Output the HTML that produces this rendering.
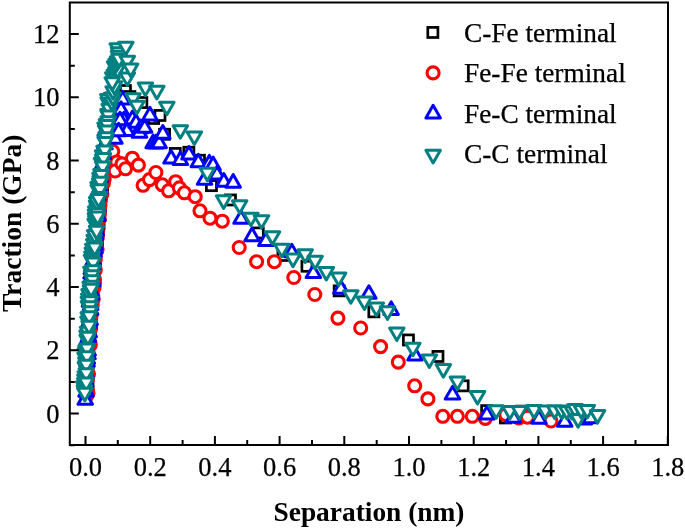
<!DOCTYPE html><html><head><meta charset="utf-8"><title>Traction-Separation</title><style>html,body{margin:0;padding:0;background:#fff}</style></head><body><svg width="685" height="529" viewBox="0 0 685 529" style="display:block">
<rect width="685" height="529" fill="#fff"/>
<g>
<rect x="81.2" y="388.9" width="10.1" height="10.1" fill="#fff" stroke="#000000" stroke-width="2.7"/>
<rect x="82.9" y="377.6" width="10.1" height="10.1" fill="#fff" stroke="#000000" stroke-width="2.7"/>
<rect x="82.6" y="372.9" width="10.1" height="10.1" fill="#fff" stroke="#000000" stroke-width="2.7"/>
<rect x="80.7" y="363.8" width="10.1" height="10.1" fill="#fff" stroke="#000000" stroke-width="2.7"/>
<rect x="81.1" y="360.2" width="10.1" height="10.1" fill="#fff" stroke="#000000" stroke-width="2.7"/>
<rect x="83.5" y="349.8" width="10.1" height="10.1" fill="#fff" stroke="#000000" stroke-width="2.7"/>
<rect x="83.5" y="338.9" width="10.1" height="10.1" fill="#fff" stroke="#000000" stroke-width="2.7"/>
<rect x="84.7" y="334.4" width="10.1" height="10.1" fill="#fff" stroke="#000000" stroke-width="2.7"/>
<rect x="84.6" y="330.5" width="10.1" height="10.1" fill="#fff" stroke="#000000" stroke-width="2.7"/>
<rect x="83.5" y="326.1" width="10.1" height="10.1" fill="#fff" stroke="#000000" stroke-width="2.7"/>
<rect x="85.4" y="322.8" width="10.1" height="10.1" fill="#fff" stroke="#000000" stroke-width="2.7"/>
<rect x="86.6" y="318.4" width="10.1" height="10.1" fill="#fff" stroke="#000000" stroke-width="2.7"/>
<rect x="85.0" y="314.8" width="10.1" height="10.1" fill="#fff" stroke="#000000" stroke-width="2.7"/>
<rect x="86.3" y="303.6" width="10.1" height="10.1" fill="#fff" stroke="#000000" stroke-width="2.7"/>
<rect x="85.2" y="295.1" width="10.1" height="10.1" fill="#fff" stroke="#000000" stroke-width="2.7"/>
<rect x="86.1" y="290.7" width="10.1" height="10.1" fill="#fff" stroke="#000000" stroke-width="2.7"/>
<rect x="85.4" y="287.9" width="10.1" height="10.1" fill="#fff" stroke="#000000" stroke-width="2.7"/>
<rect x="87.9" y="283.7" width="10.1" height="10.1" fill="#fff" stroke="#000000" stroke-width="2.7"/>
<rect x="87.9" y="274.3" width="10.1" height="10.1" fill="#fff" stroke="#000000" stroke-width="2.7"/>
<rect x="86.8" y="270.5" width="10.1" height="10.1" fill="#fff" stroke="#000000" stroke-width="2.7"/>
<rect x="90.5" y="261.5" width="10.1" height="10.1" fill="#fff" stroke="#000000" stroke-width="2.7"/>
<rect x="89.3" y="253.2" width="10.1" height="10.1" fill="#fff" stroke="#000000" stroke-width="2.7"/>
<rect x="90.4" y="241.2" width="10.1" height="10.1" fill="#fff" stroke="#000000" stroke-width="2.7"/>
<rect x="92.4" y="238.0" width="10.1" height="10.1" fill="#fff" stroke="#000000" stroke-width="2.7"/>
<rect x="89.9" y="234.0" width="10.1" height="10.1" fill="#fff" stroke="#000000" stroke-width="2.7"/>
<rect x="90.3" y="229.1" width="10.1" height="10.1" fill="#fff" stroke="#000000" stroke-width="2.7"/>
<rect x="94.0" y="218.9" width="10.1" height="10.1" fill="#fff" stroke="#000000" stroke-width="2.7"/>
<rect x="94.8" y="209.8" width="10.1" height="10.1" fill="#fff" stroke="#000000" stroke-width="2.7"/>
<rect x="91.9" y="207.0" width="10.1" height="10.1" fill="#fff" stroke="#000000" stroke-width="2.7"/>
<rect x="93.3" y="203.2" width="10.1" height="10.1" fill="#fff" stroke="#000000" stroke-width="2.7"/>
<rect x="93.6" y="199.7" width="10.1" height="10.1" fill="#fff" stroke="#000000" stroke-width="2.7"/>
<rect x="96.0" y="191.5" width="10.1" height="10.1" fill="#fff" stroke="#000000" stroke-width="2.7"/>
<rect x="97.5" y="182.8" width="10.1" height="10.1" fill="#fff" stroke="#000000" stroke-width="2.7"/>
<rect x="96.7" y="171.1" width="10.1" height="10.1" fill="#fff" stroke="#000000" stroke-width="2.7"/>
<rect x="99.7" y="167.4" width="10.1" height="10.1" fill="#fff" stroke="#000000" stroke-width="2.7"/>
<rect x="98.1" y="163.9" width="10.1" height="10.1" fill="#fff" stroke="#000000" stroke-width="2.7"/>
<rect x="97.3" y="161.0" width="10.1" height="10.1" fill="#fff" stroke="#000000" stroke-width="2.7"/>
<rect x="101.5" y="151.7" width="10.1" height="10.1" fill="#fff" stroke="#000000" stroke-width="2.7"/>
<rect x="100.4" y="148.4" width="10.1" height="10.1" fill="#fff" stroke="#000000" stroke-width="2.7"/>
<rect x="102.4" y="144.8" width="10.1" height="10.1" fill="#fff" stroke="#000000" stroke-width="2.7"/>
<rect x="102.4" y="133.4" width="10.1" height="10.1" fill="#fff" stroke="#000000" stroke-width="2.7"/>
<rect x="103.4" y="121.5" width="10.1" height="10.1" fill="#fff" stroke="#000000" stroke-width="2.7"/>
<rect x="105.0" y="113.1" width="10.1" height="10.1" fill="#fff" stroke="#000000" stroke-width="2.7"/>
<rect x="105.9" y="108.7" width="10.1" height="10.1" fill="#fff" stroke="#000000" stroke-width="2.7"/>
<rect x="108.8" y="105.8" width="10.1" height="10.1" fill="#fff" stroke="#000000" stroke-width="2.7"/>
<rect x="104.0" y="102.0" width="10.1" height="10.1" fill="#fff" stroke="#000000" stroke-width="2.7"/>
<rect x="110.2" y="97.7" width="10.1" height="10.1" fill="#fff" stroke="#000000" stroke-width="2.7"/>
<rect x="104.7" y="93.5" width="10.1" height="10.1" fill="#fff" stroke="#000000" stroke-width="2.7"/>
<rect x="120.4" y="85.5" width="10.1" height="10.1" fill="#fff" stroke="#000000" stroke-width="2.7"/>
<rect x="124.8" y="91.5" width="10.1" height="10.1" fill="#fff" stroke="#000000" stroke-width="2.7"/>
<rect x="136.8" y="97.5" width="10.1" height="10.1" fill="#fff" stroke="#000000" stroke-width="2.7"/>
<rect x="148.6" y="113.4" width="10.1" height="10.1" fill="#fff" stroke="#000000" stroke-width="2.7"/>
<rect x="154.9" y="110.4" width="10.1" height="10.1" fill="#fff" stroke="#000000" stroke-width="2.7"/>
<rect x="159.5" y="129.2" width="10.1" height="10.1" fill="#fff" stroke="#000000" stroke-width="2.7"/>
<rect x="170.2" y="148.4" width="10.1" height="10.1" fill="#fff" stroke="#000000" stroke-width="2.7"/>
<rect x="183.8" y="147.2" width="10.1" height="10.1" fill="#fff" stroke="#000000" stroke-width="2.7"/>
<rect x="194.4" y="155.2" width="10.1" height="10.1" fill="#fff" stroke="#000000" stroke-width="2.7"/>
<rect x="206.4" y="180.6" width="10.1" height="10.1" fill="#fff" stroke="#000000" stroke-width="2.7"/>
<rect x="225.4" y="194.9" width="10.1" height="10.1" fill="#fff" stroke="#000000" stroke-width="2.7"/>
<rect x="253.2" y="227.9" width="10.1" height="10.1" fill="#fff" stroke="#000000" stroke-width="2.7"/>
<rect x="277.9" y="250.4" width="10.1" height="10.1" fill="#fff" stroke="#000000" stroke-width="2.7"/>
<rect x="301.9" y="261.2" width="10.1" height="10.1" fill="#fff" stroke="#000000" stroke-width="2.7"/>
<rect x="334.1" y="285.8" width="10.1" height="10.1" fill="#fff" stroke="#000000" stroke-width="2.7"/>
<rect x="368.8" y="306.8" width="10.1" height="10.1" fill="#fff" stroke="#000000" stroke-width="2.7"/>
<rect x="403.4" y="334.9" width="10.1" height="10.1" fill="#fff" stroke="#000000" stroke-width="2.7"/>
<rect x="432.9" y="351.4" width="10.1" height="10.1" fill="#fff" stroke="#000000" stroke-width="2.7"/>
<rect x="458.1" y="380.8" width="10.1" height="10.1" fill="#fff" stroke="#000000" stroke-width="2.7"/>
<rect x="481.6" y="405.6" width="10.1" height="10.1" fill="#fff" stroke="#000000" stroke-width="2.7"/>
<rect x="500.4" y="412.9" width="10.1" height="10.1" fill="#fff" stroke="#000000" stroke-width="2.7"/>
<rect x="516.5" y="406.1" width="10.1" height="10.1" fill="#fff" stroke="#000000" stroke-width="2.7"/>
<circle cx="86.5" cy="396.0" r="6.0" fill="#fff" stroke="#ff0000" stroke-width="3.1"/>
<circle cx="88.0" cy="393.2" r="6.0" fill="#fff" stroke="#ff0000" stroke-width="3.1"/>
<circle cx="87.4" cy="390.1" r="6.0" fill="#fff" stroke="#ff0000" stroke-width="3.1"/>
<circle cx="87.6" cy="378.7" r="6.0" fill="#fff" stroke="#ff0000" stroke-width="3.1"/>
<circle cx="88.5" cy="374.0" r="6.0" fill="#fff" stroke="#ff0000" stroke-width="3.1"/>
<circle cx="87.8" cy="365.4" r="6.0" fill="#fff" stroke="#ff0000" stroke-width="3.1"/>
<circle cx="88.3" cy="355.5" r="6.0" fill="#fff" stroke="#ff0000" stroke-width="3.1"/>
<circle cx="90.3" cy="344.8" r="6.0" fill="#fff" stroke="#ff0000" stroke-width="3.1"/>
<circle cx="89.0" cy="340.1" r="6.0" fill="#fff" stroke="#ff0000" stroke-width="3.1"/>
<circle cx="90.2" cy="330.1" r="6.0" fill="#fff" stroke="#ff0000" stroke-width="3.1"/>
<circle cx="90.4" cy="325.4" r="6.0" fill="#fff" stroke="#ff0000" stroke-width="3.1"/>
<circle cx="90.6" cy="321.4" r="6.0" fill="#fff" stroke="#ff0000" stroke-width="3.1"/>
<circle cx="90.5" cy="318.3" r="6.0" fill="#fff" stroke="#ff0000" stroke-width="3.1"/>
<circle cx="91.2" cy="314.9" r="6.0" fill="#fff" stroke="#ff0000" stroke-width="3.1"/>
<circle cx="92.2" cy="305.5" r="6.0" fill="#fff" stroke="#ff0000" stroke-width="3.1"/>
<circle cx="91.5" cy="302.0" r="6.0" fill="#fff" stroke="#ff0000" stroke-width="3.1"/>
<circle cx="93.1" cy="299.2" r="6.0" fill="#fff" stroke="#ff0000" stroke-width="3.1"/>
<circle cx="92.8" cy="296.1" r="6.0" fill="#fff" stroke="#ff0000" stroke-width="3.1"/>
<circle cx="94.1" cy="287.4" r="6.0" fill="#fff" stroke="#ff0000" stroke-width="3.1"/>
<circle cx="94.4" cy="283.6" r="6.0" fill="#fff" stroke="#ff0000" stroke-width="3.1"/>
<circle cx="94.4" cy="279.7" r="6.0" fill="#fff" stroke="#ff0000" stroke-width="3.1"/>
<circle cx="95.3" cy="270.1" r="6.0" fill="#fff" stroke="#ff0000" stroke-width="3.1"/>
<circle cx="95.3" cy="259.4" r="6.0" fill="#fff" stroke="#ff0000" stroke-width="3.1"/>
<circle cx="95.0" cy="256.6" r="6.0" fill="#fff" stroke="#ff0000" stroke-width="3.1"/>
<circle cx="95.7" cy="252.2" r="6.0" fill="#fff" stroke="#ff0000" stroke-width="3.1"/>
<circle cx="97.1" cy="249.3" r="6.0" fill="#fff" stroke="#ff0000" stroke-width="3.1"/>
<circle cx="97.0" cy="238.4" r="6.0" fill="#fff" stroke="#ff0000" stroke-width="3.1"/>
<circle cx="97.6" cy="235.0" r="6.0" fill="#fff" stroke="#ff0000" stroke-width="3.1"/>
<circle cx="97.6" cy="231.3" r="6.0" fill="#fff" stroke="#ff0000" stroke-width="3.1"/>
<circle cx="99.2" cy="219.3" r="6.0" fill="#fff" stroke="#ff0000" stroke-width="3.1"/>
<circle cx="99.2" cy="214.4" r="6.0" fill="#fff" stroke="#ff0000" stroke-width="3.1"/>
<circle cx="99.6" cy="211.7" r="6.0" fill="#fff" stroke="#ff0000" stroke-width="3.1"/>
<circle cx="99.6" cy="207.8" r="6.0" fill="#fff" stroke="#ff0000" stroke-width="3.1"/>
<circle cx="100.0" cy="205.1" r="6.0" fill="#fff" stroke="#ff0000" stroke-width="3.1"/>
<circle cx="99.8" cy="201.4" r="6.0" fill="#fff" stroke="#ff0000" stroke-width="3.1"/>
<circle cx="100.5" cy="198.0" r="6.0" fill="#fff" stroke="#ff0000" stroke-width="3.1"/>
<circle cx="101.9" cy="194.1" r="6.0" fill="#fff" stroke="#ff0000" stroke-width="3.1"/>
<circle cx="103.5" cy="183.1" r="6.0" fill="#fff" stroke="#ff0000" stroke-width="3.1"/>
<circle cx="104.1" cy="179.6" r="6.0" fill="#fff" stroke="#ff0000" stroke-width="3.1"/>
<circle cx="104.0" cy="175.3" r="6.0" fill="#fff" stroke="#ff0000" stroke-width="3.1"/>
<circle cx="105.1" cy="170.7" r="6.0" fill="#fff" stroke="#ff0000" stroke-width="3.1"/>
<circle cx="106.4" cy="159.6" r="6.0" fill="#fff" stroke="#ff0000" stroke-width="3.1"/>
<circle cx="112.8" cy="151.3" r="6.0" fill="#fff" stroke="#ff0000" stroke-width="3.1"/>
<circle cx="116.8" cy="162.0" r="6.0" fill="#fff" stroke="#ff0000" stroke-width="3.1"/>
<circle cx="115.1" cy="171.0" r="6.0" fill="#fff" stroke="#ff0000" stroke-width="3.1"/>
<circle cx="122.0" cy="163.9" r="6.0" fill="#fff" stroke="#ff0000" stroke-width="3.1"/>
<circle cx="125.5" cy="168.8" r="6.0" fill="#fff" stroke="#ff0000" stroke-width="3.1"/>
<circle cx="132.4" cy="158.2" r="6.0" fill="#fff" stroke="#ff0000" stroke-width="3.1"/>
<circle cx="138.4" cy="165.1" r="6.0" fill="#fff" stroke="#ff0000" stroke-width="3.1"/>
<circle cx="143.1" cy="185.3" r="6.0" fill="#fff" stroke="#ff0000" stroke-width="3.1"/>
<circle cx="149.5" cy="179.6" r="6.0" fill="#fff" stroke="#ff0000" stroke-width="3.1"/>
<circle cx="155.9" cy="172.5" r="6.0" fill="#fff" stroke="#ff0000" stroke-width="3.1"/>
<circle cx="162.3" cy="184.8" r="6.0" fill="#fff" stroke="#ff0000" stroke-width="3.1"/>
<circle cx="168.6" cy="190.8" r="6.0" fill="#fff" stroke="#ff0000" stroke-width="3.1"/>
<circle cx="175.7" cy="181.7" r="6.0" fill="#fff" stroke="#ff0000" stroke-width="3.1"/>
<circle cx="179.4" cy="187.9" r="6.0" fill="#fff" stroke="#ff0000" stroke-width="3.1"/>
<circle cx="184.4" cy="192.8" r="6.0" fill="#fff" stroke="#ff0000" stroke-width="3.1"/>
<circle cx="195.2" cy="196.7" r="6.0" fill="#fff" stroke="#ff0000" stroke-width="3.1"/>
<circle cx="200.0" cy="210.8" r="6.0" fill="#fff" stroke="#ff0000" stroke-width="3.1"/>
<circle cx="210.0" cy="218.2" r="6.0" fill="#fff" stroke="#ff0000" stroke-width="3.1"/>
<circle cx="222.3" cy="221.2" r="6.0" fill="#fff" stroke="#ff0000" stroke-width="3.1"/>
<circle cx="239.2" cy="247.5" r="6.0" fill="#fff" stroke="#ff0000" stroke-width="3.1"/>
<circle cx="256.6" cy="261.7" r="6.0" fill="#fff" stroke="#ff0000" stroke-width="3.1"/>
<circle cx="274.4" cy="261.7" r="6.0" fill="#fff" stroke="#ff0000" stroke-width="3.1"/>
<circle cx="293.8" cy="277.5" r="6.0" fill="#fff" stroke="#ff0000" stroke-width="3.1"/>
<circle cx="314.8" cy="294.5" r="6.0" fill="#fff" stroke="#ff0000" stroke-width="3.1"/>
<circle cx="337.9" cy="318.1" r="6.0" fill="#fff" stroke="#ff0000" stroke-width="3.1"/>
<circle cx="360.7" cy="328.0" r="6.0" fill="#fff" stroke="#ff0000" stroke-width="3.1"/>
<circle cx="380.6" cy="346.6" r="6.0" fill="#fff" stroke="#ff0000" stroke-width="3.1"/>
<circle cx="398.3" cy="362.1" r="6.0" fill="#fff" stroke="#ff0000" stroke-width="3.1"/>
<circle cx="414.7" cy="385.8" r="6.0" fill="#fff" stroke="#ff0000" stroke-width="3.1"/>
<circle cx="427.9" cy="398.9" r="6.0" fill="#fff" stroke="#ff0000" stroke-width="3.1"/>
<circle cx="442.8" cy="416.3" r="6.0" fill="#fff" stroke="#ff0000" stroke-width="3.1"/>
<circle cx="457.4" cy="416.3" r="6.0" fill="#fff" stroke="#ff0000" stroke-width="3.1"/>
<circle cx="472.3" cy="416.3" r="6.0" fill="#fff" stroke="#ff0000" stroke-width="3.1"/>
<circle cx="485.3" cy="418.4" r="6.0" fill="#fff" stroke="#ff0000" stroke-width="3.1"/>
<circle cx="505.8" cy="414.6" r="6.0" fill="#fff" stroke="#ff0000" stroke-width="3.1"/>
<circle cx="518.9" cy="418.0" r="6.0" fill="#fff" stroke="#ff0000" stroke-width="3.1"/>
<circle cx="527.5" cy="417.2" r="6.0" fill="#fff" stroke="#ff0000" stroke-width="3.1"/>
<circle cx="551.0" cy="421.0" r="6.0" fill="#fff" stroke="#ff0000" stroke-width="3.1"/>
<path d="M85.3 391.7L92.5 404.3L78.0 404.3Z" fill="#fff" stroke="#0000ff" stroke-width="3.0" stroke-linejoin="round"/>
<path d="M86.1 383.7L93.3 396.3L78.8 396.3Z" fill="#fff" stroke="#0000ff" stroke-width="3.0" stroke-linejoin="round"/>
<path d="M85.9 373.6L93.1 386.2L78.6 386.2Z" fill="#fff" stroke="#0000ff" stroke-width="3.0" stroke-linejoin="round"/>
<path d="M86.3 365.0L93.5 377.6L79.0 377.6Z" fill="#fff" stroke="#0000ff" stroke-width="3.0" stroke-linejoin="round"/>
<path d="M87.1 353.8L94.3 366.3L79.8 366.3Z" fill="#fff" stroke="#0000ff" stroke-width="3.0" stroke-linejoin="round"/>
<path d="M87.3 350.6L94.6 363.2L80.1 363.2Z" fill="#fff" stroke="#0000ff" stroke-width="3.0" stroke-linejoin="round"/>
<path d="M88.0 346.1L95.3 358.7L80.8 358.7Z" fill="#fff" stroke="#0000ff" stroke-width="3.0" stroke-linejoin="round"/>
<path d="M88.1 342.5L95.4 355.1L80.9 355.1Z" fill="#fff" stroke="#0000ff" stroke-width="3.0" stroke-linejoin="round"/>
<path d="M86.3 333.6L93.5 346.2L79.0 346.2Z" fill="#fff" stroke="#0000ff" stroke-width="3.0" stroke-linejoin="round"/>
<path d="M88.5 328.9L95.7 341.4L81.2 341.4Z" fill="#fff" stroke="#0000ff" stroke-width="3.0" stroke-linejoin="round"/>
<path d="M89.3 324.3L96.5 336.8L82.0 336.8Z" fill="#fff" stroke="#0000ff" stroke-width="3.0" stroke-linejoin="round"/>
<path d="M88.7 314.7L96.0 327.2L81.5 327.2Z" fill="#fff" stroke="#0000ff" stroke-width="3.0" stroke-linejoin="round"/>
<path d="M90.1 311.9L97.4 324.5L82.9 324.5Z" fill="#fff" stroke="#0000ff" stroke-width="3.0" stroke-linejoin="round"/>
<path d="M90.7 301.6L97.9 314.2L83.4 314.2Z" fill="#fff" stroke="#0000ff" stroke-width="3.0" stroke-linejoin="round"/>
<path d="M90.7 297.0L98.0 309.5L83.5 309.5Z" fill="#fff" stroke="#0000ff" stroke-width="3.0" stroke-linejoin="round"/>
<path d="M89.4 293.7L96.7 306.2L82.2 306.2Z" fill="#fff" stroke="#0000ff" stroke-width="3.0" stroke-linejoin="round"/>
<path d="M89.6 289.6L96.9 302.2L82.4 302.2Z" fill="#fff" stroke="#0000ff" stroke-width="3.0" stroke-linejoin="round"/>
<path d="M91.7 286.6L98.9 299.1L84.4 299.1Z" fill="#fff" stroke="#0000ff" stroke-width="3.0" stroke-linejoin="round"/>
<path d="M91.0 282.8L98.2 295.4L83.7 295.4Z" fill="#fff" stroke="#0000ff" stroke-width="3.0" stroke-linejoin="round"/>
<path d="M92.6 273.0L99.9 285.5L85.4 285.5Z" fill="#fff" stroke="#0000ff" stroke-width="3.0" stroke-linejoin="round"/>
<path d="M91.8 269.0L99.0 281.6L84.5 281.6Z" fill="#fff" stroke="#0000ff" stroke-width="3.0" stroke-linejoin="round"/>
<path d="M91.1 265.3L98.3 277.9L83.8 277.9Z" fill="#fff" stroke="#0000ff" stroke-width="3.0" stroke-linejoin="round"/>
<path d="M91.3 260.8L98.6 273.4L84.1 273.4Z" fill="#fff" stroke="#0000ff" stroke-width="3.0" stroke-linejoin="round"/>
<path d="M92.8 256.5L100.0 269.0L85.5 269.0Z" fill="#fff" stroke="#0000ff" stroke-width="3.0" stroke-linejoin="round"/>
<path d="M93.1 252.6L100.4 265.1L85.9 265.1Z" fill="#fff" stroke="#0000ff" stroke-width="3.0" stroke-linejoin="round"/>
<path d="M93.9 243.9L101.2 256.5L86.7 256.5Z" fill="#fff" stroke="#0000ff" stroke-width="3.0" stroke-linejoin="round"/>
<path d="M94.8 240.6L102.1 253.1L87.6 253.1Z" fill="#fff" stroke="#0000ff" stroke-width="3.0" stroke-linejoin="round"/>
<path d="M95.1 236.6L102.4 249.1L87.9 249.1Z" fill="#fff" stroke="#0000ff" stroke-width="3.0" stroke-linejoin="round"/>
<path d="M95.6 226.6L102.9 239.2L88.4 239.2Z" fill="#fff" stroke="#0000ff" stroke-width="3.0" stroke-linejoin="round"/>
<path d="M96.2 222.7L103.5 235.3L89.0 235.3Z" fill="#fff" stroke="#0000ff" stroke-width="3.0" stroke-linejoin="round"/>
<path d="M96.0 218.8L103.2 231.4L88.7 231.4Z" fill="#fff" stroke="#0000ff" stroke-width="3.0" stroke-linejoin="round"/>
<path d="M98.1 207.9L105.3 220.4L90.8 220.4Z" fill="#fff" stroke="#0000ff" stroke-width="3.0" stroke-linejoin="round"/>
<path d="M98.0 198.6L105.3 211.2L90.8 211.2Z" fill="#fff" stroke="#0000ff" stroke-width="3.0" stroke-linejoin="round"/>
<path d="M97.9 187.1L105.1 199.7L90.6 199.7Z" fill="#fff" stroke="#0000ff" stroke-width="3.0" stroke-linejoin="round"/>
<path d="M98.0 183.4L105.3 196.0L90.8 196.0Z" fill="#fff" stroke="#0000ff" stroke-width="3.0" stroke-linejoin="round"/>
<path d="M100.1 180.5L107.3 193.1L92.8 193.1Z" fill="#fff" stroke="#0000ff" stroke-width="3.0" stroke-linejoin="round"/>
<path d="M100.2 168.8L107.4 181.4L92.9 181.4Z" fill="#fff" stroke="#0000ff" stroke-width="3.0" stroke-linejoin="round"/>
<path d="M101.6 158.0L108.8 170.6L94.3 170.6Z" fill="#fff" stroke="#0000ff" stroke-width="3.0" stroke-linejoin="round"/>
<path d="M103.2 146.0L110.5 158.6L96.0 158.6Z" fill="#fff" stroke="#0000ff" stroke-width="3.0" stroke-linejoin="round"/>
<path d="M105.0 136.2L112.3 148.8L97.8 148.8Z" fill="#fff" stroke="#0000ff" stroke-width="3.0" stroke-linejoin="round"/>
<path d="M105.4 124.8L112.6 137.3L98.1 137.3Z" fill="#fff" stroke="#0000ff" stroke-width="3.0" stroke-linejoin="round"/>
<path d="M106.3 120.9L113.5 133.5L99.0 133.5Z" fill="#fff" stroke="#0000ff" stroke-width="3.0" stroke-linejoin="round"/>
<path d="M107.7 117.5L115.0 130.0L100.5 130.0Z" fill="#fff" stroke="#0000ff" stroke-width="3.0" stroke-linejoin="round"/>
<path d="M107.4 113.5L114.6 126.0L100.1 126.0Z" fill="#fff" stroke="#0000ff" stroke-width="3.0" stroke-linejoin="round"/>
<path d="M108.3 110.0L115.5 122.6L101.0 122.6Z" fill="#fff" stroke="#0000ff" stroke-width="3.0" stroke-linejoin="round"/>
<path d="M111.6 107.1L118.9 119.7L104.4 119.7Z" fill="#fff" stroke="#0000ff" stroke-width="3.0" stroke-linejoin="round"/>
<path d="M122.7 91.4L129.9 104.0L115.5 104.0Z" fill="#fff" stroke="#0000ff" stroke-width="3.0" stroke-linejoin="round"/>
<path d="M121.0 101.7L128.2 114.3L113.8 114.3Z" fill="#fff" stroke="#0000ff" stroke-width="3.0" stroke-linejoin="round"/>
<path d="M124.0 112.2L131.2 124.8L116.8 124.8Z" fill="#fff" stroke="#0000ff" stroke-width="3.0" stroke-linejoin="round"/>
<path d="M120.0 112.2L127.2 124.8L112.8 124.8Z" fill="#fff" stroke="#0000ff" stroke-width="3.0" stroke-linejoin="round"/>
<path d="M127.0 123.0L134.2 135.6L119.8 135.6Z" fill="#fff" stroke="#0000ff" stroke-width="3.0" stroke-linejoin="round"/>
<path d="M115.0 130.7L122.2 143.3L107.8 143.3Z" fill="#fff" stroke="#0000ff" stroke-width="3.0" stroke-linejoin="round"/>
<path d="M118.6 123.2L125.8 135.8L111.3 135.8Z" fill="#fff" stroke="#0000ff" stroke-width="3.0" stroke-linejoin="round"/>
<path d="M132.5 111.1L139.8 123.7L125.2 123.7Z" fill="#fff" stroke="#0000ff" stroke-width="3.0" stroke-linejoin="round"/>
<path d="M136.0 114.7L143.2 127.3L128.8 127.3Z" fill="#fff" stroke="#0000ff" stroke-width="3.0" stroke-linejoin="round"/>
<path d="M140.5 120.1L147.8 132.7L133.2 132.7Z" fill="#fff" stroke="#0000ff" stroke-width="3.0" stroke-linejoin="round"/>
<path d="M139.5 124.7L146.8 137.3L132.2 137.3Z" fill="#fff" stroke="#0000ff" stroke-width="3.0" stroke-linejoin="round"/>
<path d="M144.7 119.7L151.9 132.3L137.4 132.3Z" fill="#fff" stroke="#0000ff" stroke-width="3.0" stroke-linejoin="round"/>
<path d="M149.9 107.3L157.2 119.9L142.7 119.9Z" fill="#fff" stroke="#0000ff" stroke-width="3.0" stroke-linejoin="round"/>
<path d="M153.2 135.1L160.4 147.7L145.9 147.7Z" fill="#fff" stroke="#0000ff" stroke-width="3.0" stroke-linejoin="round"/>
<path d="M156.0 135.3L163.2 147.9L148.8 147.9Z" fill="#fff" stroke="#0000ff" stroke-width="3.0" stroke-linejoin="round"/>
<path d="M159.2 135.1L166.4 147.7L151.9 147.7Z" fill="#fff" stroke="#0000ff" stroke-width="3.0" stroke-linejoin="round"/>
<path d="M162.8 125.6L170.1 138.2L155.6 138.2Z" fill="#fff" stroke="#0000ff" stroke-width="3.0" stroke-linejoin="round"/>
<path d="M171.1 150.5L178.3 163.1L163.8 163.1Z" fill="#fff" stroke="#0000ff" stroke-width="3.0" stroke-linejoin="round"/>
<path d="M180.4 152.0L187.7 164.6L173.2 164.6Z" fill="#fff" stroke="#0000ff" stroke-width="3.0" stroke-linejoin="round"/>
<path d="M188.9 146.5L196.2 159.1L181.7 159.1Z" fill="#fff" stroke="#0000ff" stroke-width="3.0" stroke-linejoin="round"/>
<path d="M198.3 154.2L205.6 166.8L191.1 166.8Z" fill="#fff" stroke="#0000ff" stroke-width="3.0" stroke-linejoin="round"/>
<path d="M209.3 155.4L216.6 168.0L202.1 168.0Z" fill="#fff" stroke="#0000ff" stroke-width="3.0" stroke-linejoin="round"/>
<path d="M213.1 157.1L220.3 169.7L205.8 169.7Z" fill="#fff" stroke="#0000ff" stroke-width="3.0" stroke-linejoin="round"/>
<path d="M217.0 166.4L224.2 179.0L209.8 179.0Z" fill="#fff" stroke="#0000ff" stroke-width="3.0" stroke-linejoin="round"/>
<path d="M204.6 171.7L211.8 184.3L197.3 184.3Z" fill="#fff" stroke="#0000ff" stroke-width="3.0" stroke-linejoin="round"/>
<path d="M223.8 173.6L231.1 186.2L216.6 186.2Z" fill="#fff" stroke="#0000ff" stroke-width="3.0" stroke-linejoin="round"/>
<path d="M233.2 174.6L240.4 187.2L225.9 187.2Z" fill="#fff" stroke="#0000ff" stroke-width="3.0" stroke-linejoin="round"/>
<path d="M241.0 210.7L248.2 223.3L233.8 223.3Z" fill="#fff" stroke="#0000ff" stroke-width="3.0" stroke-linejoin="round"/>
<path d="M252.0 228.1L259.2 240.7L244.8 240.7Z" fill="#fff" stroke="#0000ff" stroke-width="3.0" stroke-linejoin="round"/>
<path d="M265.8 233.0L273.1 245.6L258.6 245.6Z" fill="#fff" stroke="#0000ff" stroke-width="3.0" stroke-linejoin="round"/>
<path d="M291.8 244.2L299.1 256.8L284.6 256.8Z" fill="#fff" stroke="#0000ff" stroke-width="3.0" stroke-linejoin="round"/>
<path d="M313.3 265.0L320.6 277.6L306.1 277.6Z" fill="#fff" stroke="#0000ff" stroke-width="3.0" stroke-linejoin="round"/>
<path d="M340.9 280.7L348.1 293.3L333.6 293.3Z" fill="#fff" stroke="#0000ff" stroke-width="3.0" stroke-linejoin="round"/>
<path d="M368.9 285.7L376.1 298.3L361.6 298.3Z" fill="#fff" stroke="#0000ff" stroke-width="3.0" stroke-linejoin="round"/>
<path d="M391.2 301.9L398.4 314.5L383.9 314.5Z" fill="#fff" stroke="#0000ff" stroke-width="3.0" stroke-linejoin="round"/>
<path d="M415.0 347.4L422.2 360.0L407.8 360.0Z" fill="#fff" stroke="#0000ff" stroke-width="3.0" stroke-linejoin="round"/>
<path d="M452.5 386.4L459.8 399.0L445.2 399.0Z" fill="#fff" stroke="#0000ff" stroke-width="3.0" stroke-linejoin="round"/>
<path d="M486.9 406.5L494.1 419.1L479.6 419.1Z" fill="#fff" stroke="#0000ff" stroke-width="3.0" stroke-linejoin="round"/>
<path d="M513.2 409.7L520.5 422.3L506.0 422.3Z" fill="#fff" stroke="#0000ff" stroke-width="3.0" stroke-linejoin="round"/>
<path d="M539.0 410.7L546.2 423.3L531.8 423.3Z" fill="#fff" stroke="#0000ff" stroke-width="3.0" stroke-linejoin="round"/>
<path d="M564.8 413.6L572.0 426.2L557.5 426.2Z" fill="#fff" stroke="#0000ff" stroke-width="3.0" stroke-linejoin="round"/>
<path d="M584.2 411.5L591.5 424.1L577.0 424.1Z" fill="#fff" stroke="#0000ff" stroke-width="3.0" stroke-linejoin="round"/>
<path d="M590.4 410.1L597.6 422.7L583.1 422.7Z" fill="#fff" stroke="#0000ff" stroke-width="3.0" stroke-linejoin="round"/>
<path d="M84.4 398.3L91.6 385.7L77.1 385.7Z" fill="#fff" stroke="#008080" stroke-width="3.0" stroke-linejoin="round"/>
<path d="M83.7 394.3L90.9 381.8L76.4 381.8Z" fill="#fff" stroke="#008080" stroke-width="3.0" stroke-linejoin="round"/>
<path d="M84.8 391.1L92.0 378.6L77.5 378.6Z" fill="#fff" stroke="#008080" stroke-width="3.0" stroke-linejoin="round"/>
<path d="M84.8 387.7L92.1 375.1L77.6 375.1Z" fill="#fff" stroke="#008080" stroke-width="3.0" stroke-linejoin="round"/>
<path d="M85.3 384.3L92.5 371.7L78.0 371.7Z" fill="#fff" stroke="#008080" stroke-width="3.0" stroke-linejoin="round"/>
<path d="M85.4 375.1L92.6 362.5L78.1 362.5Z" fill="#fff" stroke="#008080" stroke-width="3.0" stroke-linejoin="round"/>
<path d="M85.8 370.4L93.1 357.8L78.6 357.8Z" fill="#fff" stroke="#008080" stroke-width="3.0" stroke-linejoin="round"/>
<path d="M85.1 365.5L92.3 352.9L77.8 352.9Z" fill="#fff" stroke="#008080" stroke-width="3.0" stroke-linejoin="round"/>
<path d="M85.4 361.1L92.6 348.5L78.1 348.5Z" fill="#fff" stroke="#008080" stroke-width="3.0" stroke-linejoin="round"/>
<path d="M86.3 358.2L93.6 345.7L79.1 345.7Z" fill="#fff" stroke="#008080" stroke-width="3.0" stroke-linejoin="round"/>
<path d="M87.1 347.8L94.4 335.2L79.9 335.2Z" fill="#fff" stroke="#008080" stroke-width="3.0" stroke-linejoin="round"/>
<path d="M86.9 343.5L94.2 331.0L79.7 331.0Z" fill="#fff" stroke="#008080" stroke-width="3.0" stroke-linejoin="round"/>
<path d="M87.6 339.8L94.8 327.2L80.3 327.2Z" fill="#fff" stroke="#008080" stroke-width="3.0" stroke-linejoin="round"/>
<path d="M88.0 329.7L95.2 317.1L80.7 317.1Z" fill="#fff" stroke="#008080" stroke-width="3.0" stroke-linejoin="round"/>
<path d="M88.3 325.4L95.5 312.8L81.0 312.8Z" fill="#fff" stroke="#008080" stroke-width="3.0" stroke-linejoin="round"/>
<path d="M88.5 314.0L95.7 301.4L81.2 301.4Z" fill="#fff" stroke="#008080" stroke-width="3.0" stroke-linejoin="round"/>
<path d="M88.3 309.8L95.6 297.2L81.1 297.2Z" fill="#fff" stroke="#008080" stroke-width="3.0" stroke-linejoin="round"/>
<path d="M88.7 306.6L95.9 294.1L81.4 294.1Z" fill="#fff" stroke="#008080" stroke-width="3.0" stroke-linejoin="round"/>
<path d="M89.0 302.2L96.3 289.6L81.8 289.6Z" fill="#fff" stroke="#008080" stroke-width="3.0" stroke-linejoin="round"/>
<path d="M90.4 298.6L97.7 286.0L83.2 286.0Z" fill="#fff" stroke="#008080" stroke-width="3.0" stroke-linejoin="round"/>
<path d="M90.2 294.8L97.4 282.3L82.9 282.3Z" fill="#fff" stroke="#008080" stroke-width="3.0" stroke-linejoin="round"/>
<path d="M91.5 283.4L98.7 270.9L84.2 270.9Z" fill="#fff" stroke="#008080" stroke-width="3.0" stroke-linejoin="round"/>
<path d="M90.9 279.8L98.1 267.2L83.6 267.2Z" fill="#fff" stroke="#008080" stroke-width="3.0" stroke-linejoin="round"/>
<path d="M91.5 267.8L98.7 255.3L84.2 255.3Z" fill="#fff" stroke="#008080" stroke-width="3.0" stroke-linejoin="round"/>
<path d="M91.9 264.6L99.1 252.0L84.6 252.0Z" fill="#fff" stroke="#008080" stroke-width="3.0" stroke-linejoin="round"/>
<path d="M92.3 260.5L99.5 248.0L85.0 248.0Z" fill="#fff" stroke="#008080" stroke-width="3.0" stroke-linejoin="round"/>
<path d="M92.8 256.9L100.0 244.3L85.5 244.3Z" fill="#fff" stroke="#008080" stroke-width="3.0" stroke-linejoin="round"/>
<path d="M93.8 252.0L101.0 239.5L86.5 239.5Z" fill="#fff" stroke="#008080" stroke-width="3.0" stroke-linejoin="round"/>
<path d="M94.1 247.9L101.4 235.3L86.9 235.3Z" fill="#fff" stroke="#008080" stroke-width="3.0" stroke-linejoin="round"/>
<path d="M94.7 243.2L101.9 230.6L87.4 230.6Z" fill="#fff" stroke="#008080" stroke-width="3.0" stroke-linejoin="round"/>
<path d="M95.1 231.9L102.4 219.3L87.9 219.3Z" fill="#fff" stroke="#008080" stroke-width="3.0" stroke-linejoin="round"/>
<path d="M95.8 228.9L103.0 216.3L88.5 216.3Z" fill="#fff" stroke="#008080" stroke-width="3.0" stroke-linejoin="round"/>
<path d="M95.3 226.0L102.6 213.4L88.1 213.4Z" fill="#fff" stroke="#008080" stroke-width="3.0" stroke-linejoin="round"/>
<path d="M95.4 222.5L102.7 209.9L88.2 209.9Z" fill="#fff" stroke="#008080" stroke-width="3.0" stroke-linejoin="round"/>
<path d="M95.8 219.4L103.0 206.8L88.5 206.8Z" fill="#fff" stroke="#008080" stroke-width="3.0" stroke-linejoin="round"/>
<path d="M97.3 216.6L104.5 204.0L90.0 204.0Z" fill="#fff" stroke="#008080" stroke-width="3.0" stroke-linejoin="round"/>
<path d="M96.5 213.5L103.8 201.0L89.3 201.0Z" fill="#fff" stroke="#008080" stroke-width="3.0" stroke-linejoin="round"/>
<path d="M96.7 210.0L103.9 197.4L89.4 197.4Z" fill="#fff" stroke="#008080" stroke-width="3.0" stroke-linejoin="round"/>
<path d="M98.3 197.9L105.5 185.3L91.0 185.3Z" fill="#fff" stroke="#008080" stroke-width="3.0" stroke-linejoin="round"/>
<path d="M98.0 195.0L105.3 182.4L90.8 182.4Z" fill="#fff" stroke="#008080" stroke-width="3.0" stroke-linejoin="round"/>
<path d="M99.6 191.6L106.9 179.1L92.4 179.1Z" fill="#fff" stroke="#008080" stroke-width="3.0" stroke-linejoin="round"/>
<path d="M100.2 188.8L107.4 176.3L92.9 176.3Z" fill="#fff" stroke="#008080" stroke-width="3.0" stroke-linejoin="round"/>
<path d="M99.9 185.7L107.2 173.2L92.7 173.2Z" fill="#fff" stroke="#008080" stroke-width="3.0" stroke-linejoin="round"/>
<path d="M101.1 181.8L108.4 169.3L93.9 169.3Z" fill="#fff" stroke="#008080" stroke-width="3.0" stroke-linejoin="round"/>
<path d="M101.4 170.9L108.7 158.3L94.2 158.3Z" fill="#fff" stroke="#008080" stroke-width="3.0" stroke-linejoin="round"/>
<path d="M102.6 167.8L109.9 155.2L95.4 155.2Z" fill="#fff" stroke="#008080" stroke-width="3.0" stroke-linejoin="round"/>
<path d="M102.5 163.3L109.8 150.8L95.3 150.8Z" fill="#fff" stroke="#008080" stroke-width="3.0" stroke-linejoin="round"/>
<path d="M104.1 158.8L111.3 146.2L96.8 146.2Z" fill="#fff" stroke="#008080" stroke-width="3.0" stroke-linejoin="round"/>
<path d="M105.0 147.4L112.3 134.9L97.8 134.9Z" fill="#fff" stroke="#008080" stroke-width="3.0" stroke-linejoin="round"/>
<path d="M105.5 138.3L112.8 125.8L98.3 125.8Z" fill="#fff" stroke="#008080" stroke-width="3.0" stroke-linejoin="round"/>
<path d="M105.1 135.5L112.3 122.9L97.8 122.9Z" fill="#fff" stroke="#008080" stroke-width="3.0" stroke-linejoin="round"/>
<path d="M106.5 132.2L113.7 119.6L99.2 119.6Z" fill="#fff" stroke="#008080" stroke-width="3.0" stroke-linejoin="round"/>
<path d="M108.0 122.2L115.2 109.6L100.7 109.6Z" fill="#fff" stroke="#008080" stroke-width="3.0" stroke-linejoin="round"/>
<path d="M108.1 110.3L115.4 97.7L100.9 97.7Z" fill="#fff" stroke="#008080" stroke-width="3.0" stroke-linejoin="round"/>
<path d="M107.8 107.0L115.1 94.5L100.6 94.5Z" fill="#fff" stroke="#008080" stroke-width="3.0" stroke-linejoin="round"/>
<path d="M109.2 116.9L116.4 104.3L101.9 104.3Z" fill="#fff" stroke="#008080" stroke-width="3.0" stroke-linejoin="round"/>
<path d="M108.3 123.6L115.5 111.0L101.0 111.0Z" fill="#fff" stroke="#008080" stroke-width="3.0" stroke-linejoin="round"/>
<path d="M108.1 129.3L115.4 116.7L100.9 116.7Z" fill="#fff" stroke="#008080" stroke-width="3.0" stroke-linejoin="round"/>
<path d="M107.2 133.0L114.4 120.4L99.9 120.4Z" fill="#fff" stroke="#008080" stroke-width="3.0" stroke-linejoin="round"/>
<path d="M107.0 138.7L114.3 126.1L99.8 126.1Z" fill="#fff" stroke="#008080" stroke-width="3.0" stroke-linejoin="round"/>
<path d="M106.1 145.4L113.4 132.8L98.9 132.8Z" fill="#fff" stroke="#008080" stroke-width="3.0" stroke-linejoin="round"/>
<path d="M105.3 150.1L112.5 137.5L98.0 137.5Z" fill="#fff" stroke="#008080" stroke-width="3.0" stroke-linejoin="round"/>
<path d="M104.8 158.6L112.1 146.0L97.6 146.0Z" fill="#fff" stroke="#008080" stroke-width="3.0" stroke-linejoin="round"/>
<path d="M103.5 166.2L110.7 153.6L96.2 153.6Z" fill="#fff" stroke="#008080" stroke-width="3.0" stroke-linejoin="round"/>
<path d="M102.7 174.7L110.0 162.1L95.5 162.1Z" fill="#fff" stroke="#008080" stroke-width="3.0" stroke-linejoin="round"/>
<path d="M101.3 183.2L108.5 170.6L94.0 170.6Z" fill="#fff" stroke="#008080" stroke-width="3.0" stroke-linejoin="round"/>
<path d="M100.4 189.9L107.7 177.3L93.2 177.3Z" fill="#fff" stroke="#008080" stroke-width="3.0" stroke-linejoin="round"/>
<path d="M99.8 197.4L107.1 184.8L92.6 184.8Z" fill="#fff" stroke="#008080" stroke-width="3.0" stroke-linejoin="round"/>
<path d="M99.5 205.0L106.8 192.4L92.3 192.4Z" fill="#fff" stroke="#008080" stroke-width="3.0" stroke-linejoin="round"/>
<path d="M98.6 207.1L105.9 194.5L91.4 194.5Z" fill="#fff" stroke="#008080" stroke-width="3.0" stroke-linejoin="round"/>
<path d="M97.5 221.1L104.7 208.5L90.2 208.5Z" fill="#fff" stroke="#008080" stroke-width="3.0" stroke-linejoin="round"/>
<path d="M97.6 224.5L104.8 211.9L90.3 211.9Z" fill="#fff" stroke="#008080" stroke-width="3.0" stroke-linejoin="round"/>
<path d="M96.6 238.9L103.8 226.3L89.3 226.3Z" fill="#fff" stroke="#008080" stroke-width="3.0" stroke-linejoin="round"/>
<path d="M94.7 255.5L102.0 242.9L87.5 242.9Z" fill="#fff" stroke="#008080" stroke-width="3.0" stroke-linejoin="round"/>
<path d="M93.2 270.7L100.4 258.1L85.9 258.1Z" fill="#fff" stroke="#008080" stroke-width="3.0" stroke-linejoin="round"/>
<path d="M93.2 278.3L100.5 265.7L86.0 265.7Z" fill="#fff" stroke="#008080" stroke-width="3.0" stroke-linejoin="round"/>
<path d="M91.9 283.3L99.2 270.7L84.7 270.7Z" fill="#fff" stroke="#008080" stroke-width="3.0" stroke-linejoin="round"/>
<path d="M92.4 288.3L99.7 275.7L85.2 275.7Z" fill="#fff" stroke="#008080" stroke-width="3.0" stroke-linejoin="round"/>
<path d="M91.5 293.8L98.7 281.2L84.2 281.2Z" fill="#fff" stroke="#008080" stroke-width="3.0" stroke-linejoin="round"/>
<path d="M91.1 296.8L98.4 284.2L83.9 284.2Z" fill="#fff" stroke="#008080" stroke-width="3.0" stroke-linejoin="round"/>
<path d="M90.2 309.3L97.5 296.7L83.0 296.7Z" fill="#fff" stroke="#008080" stroke-width="3.0" stroke-linejoin="round"/>
<path d="M90.1 314.3L97.3 301.7L82.8 301.7Z" fill="#fff" stroke="#008080" stroke-width="3.0" stroke-linejoin="round"/>
<path d="M90.3 319.3L97.5 306.7L83.0 306.7Z" fill="#fff" stroke="#008080" stroke-width="3.0" stroke-linejoin="round"/>
<path d="M89.3 324.3L96.5 311.7L82.0 311.7Z" fill="#fff" stroke="#008080" stroke-width="3.0" stroke-linejoin="round"/>
<path d="M89.0 333.9L96.3 321.3L81.8 321.3Z" fill="#fff" stroke="#008080" stroke-width="3.0" stroke-linejoin="round"/>
<path d="M87.9 344.8L95.2 332.2L80.7 332.2Z" fill="#fff" stroke="#008080" stroke-width="3.0" stroke-linejoin="round"/>
<path d="M87.0 356.7L94.2 344.1L79.8 344.1Z" fill="#fff" stroke="#008080" stroke-width="3.0" stroke-linejoin="round"/>
<path d="M87.0 364.3L94.2 351.7L79.8 351.7Z" fill="#fff" stroke="#008080" stroke-width="3.0" stroke-linejoin="round"/>
<path d="M86.2 372.8L93.5 360.2L79.0 360.2Z" fill="#fff" stroke="#008080" stroke-width="3.0" stroke-linejoin="round"/>
<path d="M86.2 381.3L93.5 368.7L79.0 368.7Z" fill="#fff" stroke="#008080" stroke-width="3.0" stroke-linejoin="round"/>
<path d="M86.2 390.7L93.5 378.1L79.0 378.1Z" fill="#fff" stroke="#008080" stroke-width="3.0" stroke-linejoin="round"/>
<path d="M84.8 400.9L92.0 388.3L77.5 388.3Z" fill="#fff" stroke="#008080" stroke-width="3.0" stroke-linejoin="round"/>
<path d="M117.2 56.3L124.5 43.7L110.0 43.7Z" fill="#fff" stroke="#008080" stroke-width="3.0" stroke-linejoin="round"/>
<path d="M118.5 60.3L125.8 47.7L111.2 47.7Z" fill="#fff" stroke="#008080" stroke-width="3.0" stroke-linejoin="round"/>
<path d="M118.5 63.8L125.8 51.2L111.2 51.2Z" fill="#fff" stroke="#008080" stroke-width="3.0" stroke-linejoin="round"/>
<path d="M125.8 54.8L133.1 42.2L118.5 42.2Z" fill="#fff" stroke="#008080" stroke-width="3.0" stroke-linejoin="round"/>
<path d="M112.0 110.3L119.3 97.7L104.8 97.7Z" fill="#fff" stroke="#008080" stroke-width="3.0" stroke-linejoin="round"/>
<path d="M113.0 105.3L120.2 92.7L105.7 92.7Z" fill="#fff" stroke="#008080" stroke-width="3.0" stroke-linejoin="round"/>
<path d="M113.1 99.3L120.4 86.7L105.9 86.7Z" fill="#fff" stroke="#008080" stroke-width="3.0" stroke-linejoin="round"/>
<path d="M114.5 94.3L121.8 81.7L107.3 81.7Z" fill="#fff" stroke="#008080" stroke-width="3.0" stroke-linejoin="round"/>
<path d="M112.8 85.3L120.0 72.7L105.5 72.7Z" fill="#fff" stroke="#008080" stroke-width="3.0" stroke-linejoin="round"/>
<path d="M114.3 82.8L121.5 70.2L107.0 70.2Z" fill="#fff" stroke="#008080" stroke-width="3.0" stroke-linejoin="round"/>
<path d="M115.8 80.3L123.0 67.7L108.5 67.7Z" fill="#fff" stroke="#008080" stroke-width="3.0" stroke-linejoin="round"/>
<path d="M117.3 77.8L124.5 65.2L110.0 65.2Z" fill="#fff" stroke="#008080" stroke-width="3.0" stroke-linejoin="round"/>
<path d="M114.5 74.3L121.8 61.7L107.3 61.7Z" fill="#fff" stroke="#008080" stroke-width="3.0" stroke-linejoin="round"/>
<path d="M116.0 71.8L123.3 59.2L108.8 59.2Z" fill="#fff" stroke="#008080" stroke-width="3.0" stroke-linejoin="round"/>
<path d="M117.6 69.3L124.8 56.7L110.3 56.7Z" fill="#fff" stroke="#008080" stroke-width="3.0" stroke-linejoin="round"/>
<path d="M119.1 66.8L126.3 54.2L111.8 54.2Z" fill="#fff" stroke="#008080" stroke-width="3.0" stroke-linejoin="round"/>
<path d="M127.3 85.5L134.6 72.9L120.0 72.9Z" fill="#fff" stroke="#008080" stroke-width="3.0" stroke-linejoin="round"/>
<path d="M127.3 68.8L134.6 56.2L120.0 56.2Z" fill="#fff" stroke="#008080" stroke-width="3.0" stroke-linejoin="round"/>
<path d="M130.7 76.6L137.9 64.0L123.4 64.0Z" fill="#fff" stroke="#008080" stroke-width="3.0" stroke-linejoin="round"/>
<path d="M112.3 90.3L119.5 77.7L105.0 77.7Z" fill="#fff" stroke="#008080" stroke-width="3.0" stroke-linejoin="round"/>
<path d="M133.0 106.3L140.2 93.7L125.8 93.7Z" fill="#fff" stroke="#008080" stroke-width="3.0" stroke-linejoin="round"/>
<path d="M136.9 113.8L144.2 101.2L129.7 101.2Z" fill="#fff" stroke="#008080" stroke-width="3.0" stroke-linejoin="round"/>
<path d="M145.4 95.7L152.7 83.1L138.2 83.1Z" fill="#fff" stroke="#008080" stroke-width="3.0" stroke-linejoin="round"/>
<path d="M156.8 98.9L164.1 86.3L149.6 86.3Z" fill="#fff" stroke="#008080" stroke-width="3.0" stroke-linejoin="round"/>
<path d="M166.8 114.8L174.1 102.2L159.6 102.2Z" fill="#fff" stroke="#008080" stroke-width="3.0" stroke-linejoin="round"/>
<path d="M180.3 138.3L187.6 125.7L173.1 125.7Z" fill="#fff" stroke="#008080" stroke-width="3.0" stroke-linejoin="round"/>
<path d="M194.3 144.5L201.6 131.9L187.1 131.9Z" fill="#fff" stroke="#008080" stroke-width="3.0" stroke-linejoin="round"/>
<path d="M207.3 180.8L214.6 168.2L200.1 168.2Z" fill="#fff" stroke="#008080" stroke-width="3.0" stroke-linejoin="round"/>
<path d="M223.6 208.4L230.8 195.8L216.3 195.8Z" fill="#fff" stroke="#008080" stroke-width="3.0" stroke-linejoin="round"/>
<path d="M239.7 213.3L246.9 200.7L232.4 200.7Z" fill="#fff" stroke="#008080" stroke-width="3.0" stroke-linejoin="round"/>
<path d="M250.9 225.8L258.1 213.2L243.7 213.2Z" fill="#fff" stroke="#008080" stroke-width="3.0" stroke-linejoin="round"/>
<path d="M261.5 228.3L268.8 215.7L254.2 215.7Z" fill="#fff" stroke="#008080" stroke-width="3.0" stroke-linejoin="round"/>
<path d="M272.5 244.3L279.8 231.7L265.2 231.7Z" fill="#fff" stroke="#008080" stroke-width="3.0" stroke-linejoin="round"/>
<path d="M281.9 256.8L289.1 244.2L274.6 244.2Z" fill="#fff" stroke="#008080" stroke-width="3.0" stroke-linejoin="round"/>
<path d="M293.0 266.7L300.2 254.1L285.8 254.1Z" fill="#fff" stroke="#008080" stroke-width="3.0" stroke-linejoin="round"/>
<path d="M305.2 262.4L312.4 249.8L297.9 249.8Z" fill="#fff" stroke="#008080" stroke-width="3.0" stroke-linejoin="round"/>
<path d="M315.1 268.9L322.4 256.3L307.9 256.3Z" fill="#fff" stroke="#008080" stroke-width="3.0" stroke-linejoin="round"/>
<path d="M326.3 280.0L333.6 267.4L319.1 267.4Z" fill="#fff" stroke="#008080" stroke-width="3.0" stroke-linejoin="round"/>
<path d="M338.7 285.6L345.9 273.0L331.4 273.0Z" fill="#fff" stroke="#008080" stroke-width="3.0" stroke-linejoin="round"/>
<path d="M350.8 303.3L358.1 290.7L343.6 290.7Z" fill="#fff" stroke="#008080" stroke-width="3.0" stroke-linejoin="round"/>
<path d="M364.4 309.5L371.6 296.9L357.1 296.9Z" fill="#fff" stroke="#008080" stroke-width="3.0" stroke-linejoin="round"/>
<path d="M376.4 315.7L383.6 303.1L369.1 303.1Z" fill="#fff" stroke="#008080" stroke-width="3.0" stroke-linejoin="round"/>
<path d="M387.5 319.4L394.8 306.8L380.2 306.8Z" fill="#fff" stroke="#008080" stroke-width="3.0" stroke-linejoin="round"/>
<path d="M396.8 340.6L404.1 328.0L389.6 328.0Z" fill="#fff" stroke="#008080" stroke-width="3.0" stroke-linejoin="round"/>
<path d="M412.9 355.8L420.1 343.2L405.6 343.2Z" fill="#fff" stroke="#008080" stroke-width="3.0" stroke-linejoin="round"/>
<path d="M429.3 367.5L436.6 354.9L422.1 354.9Z" fill="#fff" stroke="#008080" stroke-width="3.0" stroke-linejoin="round"/>
<path d="M443.3 377.2L450.6 364.6L436.1 364.6Z" fill="#fff" stroke="#008080" stroke-width="3.0" stroke-linejoin="round"/>
<path d="M457.4 389.6L464.6 377.0L450.1 377.0Z" fill="#fff" stroke="#008080" stroke-width="3.0" stroke-linejoin="round"/>
<path d="M477.5 404.0L484.8 391.4L470.2 391.4Z" fill="#fff" stroke="#008080" stroke-width="3.0" stroke-linejoin="round"/>
<path d="M496.2 418.3L503.4 405.7L488.9 405.7Z" fill="#fff" stroke="#008080" stroke-width="3.0" stroke-linejoin="round"/>
<path d="M509.9 419.1L517.1 406.5L502.6 406.5Z" fill="#fff" stroke="#008080" stroke-width="3.0" stroke-linejoin="round"/>
<path d="M519.5 419.1L526.8 406.5L512.2 406.5Z" fill="#fff" stroke="#008080" stroke-width="3.0" stroke-linejoin="round"/>
<path d="M534.0 418.1L541.2 405.5L526.8 405.5Z" fill="#fff" stroke="#008080" stroke-width="3.0" stroke-linejoin="round"/>
<path d="M545.2 418.6L552.5 406.0L538.0 406.0Z" fill="#fff" stroke="#008080" stroke-width="3.0" stroke-linejoin="round"/>
<path d="M554.6 418.6L561.9 406.0L547.4 406.0Z" fill="#fff" stroke="#008080" stroke-width="3.0" stroke-linejoin="round"/>
<path d="M561.7 418.6L569.0 406.0L554.5 406.0Z" fill="#fff" stroke="#008080" stroke-width="3.0" stroke-linejoin="round"/>
<path d="M566.9 419.0L574.1 406.4L559.6 406.4Z" fill="#fff" stroke="#008080" stroke-width="3.0" stroke-linejoin="round"/>
<path d="M572.0 419.0L579.2 406.4L564.8 406.4Z" fill="#fff" stroke="#008080" stroke-width="3.0" stroke-linejoin="round"/>
<path d="M575.0 417.0L582.2 404.4L567.8 404.4Z" fill="#fff" stroke="#008080" stroke-width="3.0" stroke-linejoin="round"/>
<path d="M578.1 427.2L585.4 414.6L570.9 414.6Z" fill="#fff" stroke="#008080" stroke-width="3.0" stroke-linejoin="round"/>
<path d="M581.2 418.0L588.5 405.4L574.0 405.4Z" fill="#fff" stroke="#008080" stroke-width="3.0" stroke-linejoin="round"/>
<path d="M587.3 418.0L594.5 405.4L580.0 405.4Z" fill="#fff" stroke="#008080" stroke-width="3.0" stroke-linejoin="round"/>
<path d="M597.5 423.1L604.8 410.5L590.2 410.5Z" fill="#fff" stroke="#008080" stroke-width="3.0" stroke-linejoin="round"/>
</g>
<rect x="69.8" y="2.5" width="598.2" height="442.5" fill="none" stroke="#000" stroke-width="2"/>
<path d="M85.5 445.0v-9 M117.8 445.0v-5 M150.2 445.0v-9 M182.6 445.0v-5 M214.9 445.0v-9 M247.2 445.0v-5 M279.6 445.0v-9 M312.0 445.0v-5 M344.3 445.0v-9 M376.7 445.0v-5 M409.0 445.0v-9 M441.4 445.0v-5 M473.7 445.0v-9 M506.1 445.0v-5 M538.4 445.0v-9 M570.8 445.0v-5 M603.1 445.0v-9 M635.5 445.0v-5 M667.8 445.0v-9 M69.8 413.6h9 M69.8 382.0h5 M69.8 350.3h9 M69.8 318.7h5 M69.8 287.1h9 M69.8 255.5h5 M69.8 223.8h9 M69.8 192.2h5 M69.8 160.6h9 M69.8 128.9h5 M69.8 97.3h9 M69.8 65.7h5 M69.8 34.0h9 M69.8 445.2h5" stroke="#000" stroke-width="2" fill="none"/>
<g font-family="Liberation Serif, Times New Roman, serif" font-size="26.5" fill="#000" stroke="#000" stroke-width="0.25">
<text x="85.5" y="476" text-anchor="middle">0.0</text>
<text x="150.2" y="476" text-anchor="middle">0.2</text>
<text x="214.9" y="476" text-anchor="middle">0.4</text>
<text x="279.6" y="476" text-anchor="middle">0.6</text>
<text x="344.3" y="476" text-anchor="middle">0.8</text>
<text x="409.0" y="476" text-anchor="middle">1.0</text>
<text x="473.7" y="476" text-anchor="middle">1.2</text>
<text x="538.4" y="476" text-anchor="middle">1.4</text>
<text x="603.1" y="476" text-anchor="middle">1.6</text>
<text x="667.8" y="476" text-anchor="middle">1.8</text>
<text x="59.5" y="422.6" text-anchor="end">0</text>
<text x="59.5" y="359.3" text-anchor="end">2</text>
<text x="59.5" y="296.1" text-anchor="end">4</text>
<text x="59.5" y="232.8" text-anchor="end">6</text>
<text x="59.5" y="169.6" text-anchor="end">8</text>
<text x="59.5" y="106.3" text-anchor="end">10</text>
<text x="59.5" y="43.0" text-anchor="end">12</text>
</g>
<text x="369" y="520.6" text-anchor="middle" font-family="Liberation Serif, Times New Roman, serif" font-weight="bold" font-size="27.4">Separation (nm)</text>
<text transform="translate(21.4 223.3) rotate(-90)" text-anchor="middle" font-family="Liberation Serif, Times New Roman, serif" font-weight="bold" font-size="27.5">Traction (GPa)</text>
<rect x="427.8" y="27.4" width="10.1" height="10.1" fill="#fff" stroke="#000000" stroke-width="2.7"/>
<circle cx="433.1" cy="72.9" r="6.0" fill="#fff" stroke="#ff0000" stroke-width="3.1"/>
<path d="M433.1 105.3L440.4 117.9L425.9 117.9Z" fill="#fff" stroke="#0000ff" stroke-width="3.0" stroke-linejoin="round"/>
<path d="M433.1 162.9L440.4 150.3L425.9 150.3Z" fill="#fff" stroke="#008080" stroke-width="3.0" stroke-linejoin="round"/>
<g font-family="Liberation Serif, Times New Roman, serif" font-size="27.35" fill="#000" stroke="#000" stroke-width="0.25">
<text x="464" y="41.9">C-Fe terminal</text>
<text x="464" y="82.2">Fe-Fe terminal</text>
<text x="464" y="122.5">Fe-C terminal</text>
<text x="464" y="162.8">C-C terminal</text>
</g>
</svg></body></html>
